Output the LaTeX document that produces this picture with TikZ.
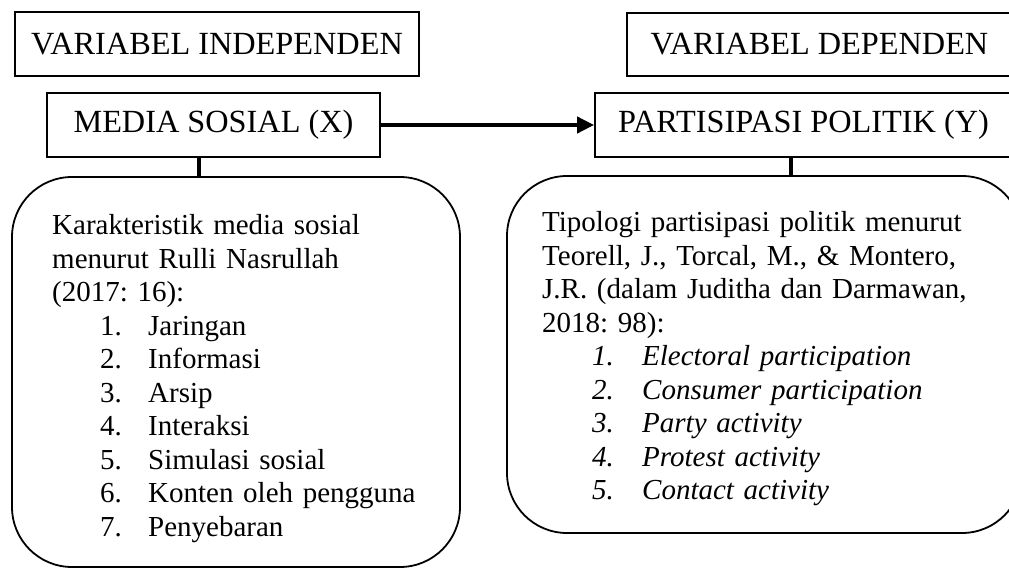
\documentclass[tikz,border=0pt]{standalone}
\usepackage{fontspec}
\setmainfont{Liberation Serif}
\usetikzlibrary{arrows.meta}
\frenchspacing
\begin{document}
\begin{tikzpicture}[x=1pt,y=-1pt,
  hdr/.style={draw, line width=1.8pt, inner sep=0pt, font=\fontsize{32.3}{37}\selectfont},
  card/.style={draw, line width=1.8pt, rounded corners=60pt, inner sep=0pt},
  body/.style={inner sep=0pt, text width=#1, align=left, font=\fontsize{29}{33.5}\selectfont\frenchspacing, anchor=base west},
  link/.style={line width=3.5pt},
  flow/.style={line width=4pt, -{Triangle[length=17pt,width=16pt]}}]
\useasboundingbox (0,0) rectangle (1009,569);
\clip (0,0) rectangle (1009,569);
\node[hdr, minimum width=404pt, minimum height=64pt] (indep) at (217,44) {VARIABEL INDEPENDEN};
\node[hdr, minimum width=385pt, minimum height=63pt] (dep) at (819.5,44.5) {VARIABEL DEPENDEN};
\node[hdr, minimum width=333pt, minimum height=64pt] (media) at (213.5,125) {MEDIA SOSIAL (X)};
\node[hdr, minimum width=417pt, minimum height=64pt] (part) at (803.5,125) {PARTISIPASI POLITIK (Y)};
\node[card, minimum width=448pt, minimum height=390pt] (lcard) at (236,372) {};
\node[card, minimum width=515pt, minimum height=357pt] (rcard) at (764.5,354.5) {};
\draw[flow] (media.east) -- (part.west);
\draw[link] ([xshift=-14.5pt]media.south) -- ([xshift=-14.5pt]media.south |- lcard.north);
\draw[link] ([xshift=-12.5pt]part.south) -- ([xshift=-12.5pt]part.south |- rcard.north);
\node[body=400pt] (ltext) at (52,235) {Karakteristik media sosial\\
menurut Rulli Nasrullah\\
(2017: 16):\\
\hspace*{48pt}\makebox[48pt][l]{1.}Jaringan\\
\hspace*{48pt}\makebox[48pt][l]{2.}Informasi\\
\hspace*{48pt}\makebox[48pt][l]{3.}Arsip\\
\hspace*{48pt}\makebox[48pt][l]{4.}Interaksi\\
\hspace*{48pt}\makebox[48pt][l]{5.}Simulasi sosial\\
\hspace*{48pt}\makebox[48pt][l]{6.}Konten oleh pengguna\\
\hspace*{48pt}\makebox[48pt][l]{7.}Penyebaran};
\node[body=470pt] (rtext) at (542,232) {Tipologi partisipasi politik menurut\\
Teorell, J., Torcal, M., \& Montero,\\
J.R. (dalam Juditha dan Darmawan,\\
2018: 98):\\
\hspace*{50pt}\textit{\makebox[50pt][l]{1.}Electoral participation}\\
\hspace*{50pt}\textit{\makebox[50pt][l]{2.}Consumer participation}\\
\hspace*{50pt}\textit{\makebox[50pt][l]{3.}Party activity}\\
\hspace*{50pt}\textit{\makebox[50pt][l]{4.}Protest activity}\\
\hspace*{50pt}\textit{\makebox[50pt][l]{5.}Contact activity}};
\end{tikzpicture}
\end{document}
